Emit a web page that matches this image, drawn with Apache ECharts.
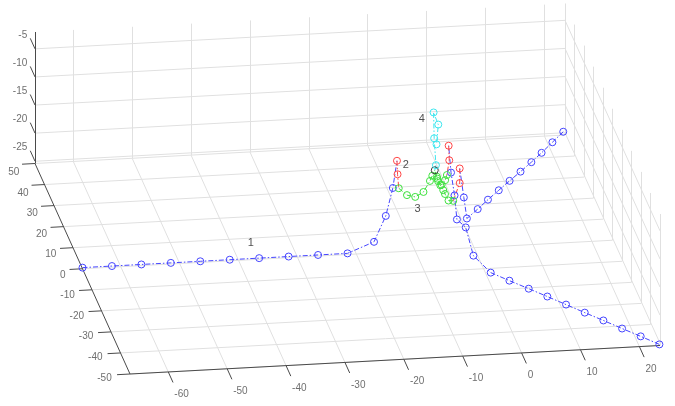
<!DOCTYPE html>
<html>
<head>
<meta charset="utf-8">
<script src="https://cdn.jsdelivr.net/npm/echarts@6/dist/echarts.min.js"></script>
<style>
html, body { margin: 0; padding: 0; background: #fff; }
#main { width: 675px; height: 406px; }
</style>
</head>
<body>
<div id="main"></div>
<script>
// axis limits and ticks
var xLim = [-66.5, 23.5];
var yLim = [-50, 50];
var zLim = [-25.4, -2];
var xTicks = [-60, -50, -40, -30, -20, -10, 0, 10, 20];
var yTicks = [-50, -40, -30, -20, -10, 0, 10, 20, 30, 40, 50];
var zTicks = [-25, -20, -15, -10, -5];

// trajectory 1 (from the left)
var leftBlue = [[-66.5, 0, -25.2], [-61.5, 0, -25.2], [-56.5, 0, -25.2], [-51.5, 0, -25.2], [-46.5, 0, -25.2],
	[-41.5, 0, -25.2], [-36.5, 0, -25.2], [-31.5, 0, -25.2], [-26.5, 0, -25.2], [-21.5, 0, -25.2],
	[-17.0, 0, -23.4], [-15.0, 0, -18.9], [-13.8, 0, -14.0]];
var leftRed = [[-13.1, 0, -9.2], [-13.0, 0, -11.6]];
var leftGreen = [[-12.8, 0, -14.1], [-11.4, 0, -15.4], [-10.0, 0, -15.8], [-8.6, 0, -15.0], [-7.5, 0, -13.1], [-7.1, 0, -12.2]];

// trajectory from the front corner
var frontBlue = [[23.4, -50, -25.2], [20.9, -45.8, -25.2], [18.4, -41.7, -25.2], [15.9, -37.5, -25.2], [13.4, -33.4, -25.2],
	[10.9, -29.2, -25.2], [8.4, -25.0, -25.2], [5.9, -20.9, -25.2], [3.3, -16.7, -25.2], [0.8, -12.5, -25.2],
	[-0.8, -4.2, -25.2], [-2.1, -4.2, -20.1], [-3.6, -4.2, -18.6], [-4.0, -4.2, -14.3], [-4.6, -4.2, -10.2]];
var frontRed = [[-5.0, -4.2, -5.4], [-4.9, -4.2, -8.0]];
var frontGreen = [[-5.3, -4.2, -10.6], [-5.6, -4.2, -11.5], [-6.2, -4.2, -12.3], [-6.8, -4.2, -11.6], [-7.0, -4.2, -10.8]];

// trajectory from the back corner
var backBlue = [[23.2, 50, -24.8], [20.7, 45.9, -25.0], [18.2, 41.8, -25.2], [15.8, 37.7, -25.2], [13.3, 33.6, -25.2],
	[10.8, 29.6, -25.2], [8.3, 25.5, -25.2], [5.8, 21.4, -25.2], [3.4, 17.3, -25.2], [0.9, 13.2, -25.2],
	[-1.1, 4, -17.9]];
var backRed = [[-1.8, 4, -12.7], [-1.8, 4, -15.3]];
var backGreen = [[-2.9, 4, -18.4], [-3.7, 4, -18.3], [-4.3, 4, -17.1], [-4.6, 4, -16.4], [-5.1, 4, -15.5], [-5.6, 4, -14.3]];

// meeting point and common climb
var meetPoint = [-6.2, 3, -12.4];
var climbCyan = [[-6.0, 3, -11.5], [-6.3, 3, -6.7], [-6.4, 3, -2.1], [-5.6, 3, -4.3], [-5.9, 3, -7.8]];

// phase labels
var phaseNames = ['1', '2', '3', '4'];
var phasePos = [[-37.9, 0, -22.5], [-11.6, 0, -10.1], [-9.6, 0, -18.0], [-8.9, 0, -2.0]];

// screen projection of the 3d box (orthographic view)
var P0 = [130, 374];          // corner (xmin, ymin, zmin)
var EX = [5.889, -0.3167];    // per unit x
var EY = [-0.95, -2.105];     // per unit y
var EZ = [0, -5.62];          // per unit z

function proj(p) {
	var u = p[0] - xLim[0], v = p[1] - yLim[0], w = p[2] - zLim[0];
	return [P0[0] + u * EX[0] + v * EY[0] + w * EZ[0],
		P0[1] + u * EX[1] + v * EY[1] + w * EZ[1]];
}
function seg(a, b) {
	return { coords: [proj(a), proj(b)] };
}

var x0 = xLim[0], x1 = xLim[1], y0 = yLim[0], y1 = yLim[1], z0 = zLim[0], z1 = zLim[1];

// grid walls
var gridSegs = [];
xTicks.forEach(function(x) {
	gridSegs.push(seg([x, y0, z0], [x, y1, z0]));
	gridSegs.push(seg([x, y1, z0], [x, y1, z1]));
});
yTicks.forEach(function(y) {
	gridSegs.push(seg([x0, y, z0], [x1, y, z0]));
	gridSegs.push(seg([x1, y, z0], [x1, y, z1]));
});
zTicks.forEach(function(z) {
	gridSegs.push(seg([x0, y1, z], [x1, y1, z]));
	gridSegs.push(seg([x1, y0, z], [x1, y1, z]));
});

// axis lines and tick marks
var axisSegs = [
	seg([x0, y0, z0], [x1, y0, z0]),
	seg([x0, y0, z0], [x0, y1, z0]),
	seg([x0, y1, z0], [x0, y1, z1])
];
var tickLabels = [];
xTicks.forEach(function(x) {
	axisSegs.push(seg([x, y0, z0], [x, y0 - 5, z0]));
	var e = proj([x, y0 - 5, z0]);
	tickLabels.push({ name: String(x), value: [e[0] + 1.3, e[1] + 11.8], label: { align: 'left' } });
});
yTicks.forEach(function(y) {
	axisSegs.push(seg([x0, y, z0], [x0 - 2.2, y, z0]));
	var e = proj([x0 - 2.2, y, z0]);
	tickLabels.push({ name: String(y), value: [e[0] - 4 + 1.3 * y / 50, e[1] + 5.7 + 2.6 * y / 50], label: { align: 'right' } });
});
zTicks.forEach(function(z) {
	axisSegs.push(seg([x0, y1, z], [x0, y1 + 5, z]));
	var e = proj([x0, y1 + 5, z]);
	tickLabels.push({ name: String(z), value: [e[0] - 3, e[1] - 3.2], label: { align: 'right' } });
});

var DASHDOT = [5, 2, 1.5, 2];
function pathSeries(pts, next, color) {
	var data = pts.map(function(p) { return proj(p); });
	if (next) data.push({ value: proj(next), symbol: 'none' });
	return {
		type: 'line',
		data: data,
		symbol: 'circle',
		symbolSize: 7,
		itemStyle: { color: 'rgba(0,0,0,0)', borderColor: color, borderWidth: 1 },
		lineStyle: { color: color, width: 1, type: DASHDOT },
		silent: true,
		clip: false,
		z: 3
	};
}

var BLUE = '#4545ff', RED = '#ff4545', GREEN = '#3fe03f', CYAN = '#3ee6ee', BLACK = '#3a3a3a';

var cyanData = [{ value: proj(meetPoint), symbol: 'none' }].concat(climbCyan.map(function(p) { return proj(p); }));

var option = {
	animation: false,
	grid: { left: 0, top: 0, right: 0, bottom: 0 },
	xAxis: { type: 'value', min: 0, max: 675, show: false },
	yAxis: { type: 'value', min: 0, max: 406, inverse: true, show: false },
	series: [
		{
			type: 'lines', coordinateSystem: 'cartesian2d', silent: true, z: 1,
			lineStyle: { color: '#e0e0e0', width: 1, opacity: 1 },
			data: gridSegs
		},
		{
			type: 'lines', coordinateSystem: 'cartesian2d', silent: true, z: 2,
			lineStyle: { color: '#4a4a4a', width: 1, opacity: 1 },
			data: axisSegs
		},
		{
			type: 'scatter', silent: true, symbolSize: 1, z: 2,
			itemStyle: { color: 'rgba(0,0,0,0)' },
			label: {
				show: true, position: 'inside', formatter: '{b}', verticalAlign: 'middle',
				color: '#4a4a4a', fontSize: 10, fontFamily: 'Liberation Sans, Arial, sans-serif'
			},
			data: tickLabels
		},
		pathSeries(leftBlue, leftRed[0], BLUE),
		pathSeries(frontBlue, frontRed[0], BLUE),
		pathSeries(backBlue, backRed[0], BLUE),
		pathSeries(leftRed, leftGreen[0], RED),
		pathSeries(frontRed, frontGreen[0], RED),
		pathSeries(backRed, backGreen[0], RED),
		pathSeries(leftGreen, meetPoint, GREEN),
		pathSeries(frontGreen, meetPoint, GREEN),
		pathSeries(backGreen, meetPoint, GREEN),
		pathSeries([meetPoint], null, BLACK),
		{
			type: 'line', data: cyanData, symbol: 'circle', symbolSize: 7, silent: true, clip: false, z: 3,
			itemStyle: { color: 'rgba(0,0,0,0)', borderColor: CYAN, borderWidth: 1 },
			lineStyle: { color: CYAN, width: 1, type: DASHDOT }
		},
		{
			type: 'scatter', silent: true, symbolSize: 1, z: 4,
			itemStyle: { color: 'rgba(0,0,0,0)' },
			label: {
				show: true, position: 'inside', formatter: '{b}', align: 'center', verticalAlign: 'middle',
				color: '#222', fontSize: 11, fontFamily: 'Liberation Sans, Arial, sans-serif'
			},
			data: phaseNames.map(function(n, i) { return { name: n, value: proj(phasePos[i]) }; })
		}
	]
};

var chart = echarts.init(document.getElementById('main'));
chart.setOption(option);
</script>
</body>
</html>
